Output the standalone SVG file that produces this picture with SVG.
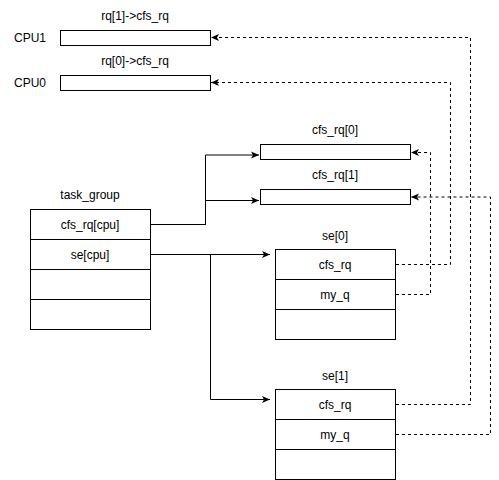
<svg xmlns="http://www.w3.org/2000/svg" width="499" height="480" viewBox="0 0 499 480">
<style>
  .box { fill: #ffffff; stroke: #000000; stroke-width: 1; }
  .t { font-family: "Liberation Sans", Arial, sans-serif; font-size: 12px; fill: #000000; text-anchor: middle; }
  .solid { fill: none; stroke: #000000; stroke-width: 1; }
  .dash { fill: none; stroke: #000000; stroke-width: 1; stroke-dasharray: 3 3; }
</style>
<defs>
  <marker id="arr" markerUnits="userSpaceOnUse" markerWidth="10" markerHeight="10" refX="8" refY="4" orient="auto">
    <path d="M0,0.5 L8,4 L0,7.5 L2,4 Z" fill="#000000" stroke="none"/>
  </marker>
</defs>
<rect width="499" height="480" fill="#ffffff"/>

<g id="connectors">
  <path class="solid" d="M150,224.5 H205.5 V155 H259" marker-end="url(#arr)"/>
  <path class="solid" d="M150,224.5 H205.5 V200.5 H259" marker-end="url(#arr)"/>
  <path class="solid" d="M150,254.5 H270" marker-end="url(#arr)"/>
  <path class="solid" d="M210.5,254.5 V399.5 H270" marker-end="url(#arr)"/>
  <path class="dash" d="M396,264.5 H450.5 V82.5 H211" marker-end="url(#arr)"/>
  <path class="dash" d="M396,294.5 H430.5 V152.5 H411" marker-end="url(#arr)"/>
  <path class="dash" d="M396,404.5 H470.5 V37.5 H211" marker-end="url(#arr)"/>
  <path class="dash" d="M396,434.5 H490.5 V197 H411" marker-end="url(#arr)"/>
</g>

<g id="cpu1">
  <text class="t" x="135" y="20">rq[1]-&gt;cfs_rq</text>
  <text class="t" x="30" y="42">CPU1</text>
  <rect class="box" x="60.5" y="30.5" width="150" height="15"/>
</g>

<g id="cpu0">
  <text class="t" x="135" y="65">rq[0]-&gt;cfs_rq</text>
  <text class="t" x="30" y="87">CPU0</text>
  <rect class="box" x="60.5" y="75.5" width="150" height="15"/>
</g>

<g id="cfs_rq0">
  <text class="t" x="335" y="134">cfs_rq[0]</text>
  <rect class="box" x="260.5" y="144.5" width="150" height="15"/>
</g>

<g id="cfs_rq1">
  <text class="t" x="335" y="179">cfs_rq[1]</text>
  <rect class="box" x="260.5" y="189.5" width="150" height="15"/>
</g>

<g id="task_group">
  <text class="t" x="90" y="199">task_group</text>
  <rect class="box" x="30.5" y="209.5" width="120" height="30"/>
  <rect class="box" x="30.5" y="239.5" width="120" height="30"/>
  <rect class="box" x="30.5" y="269.5" width="120" height="30"/>
  <rect class="box" x="30.5" y="299.5" width="120" height="30"/>
  <text class="t" x="90" y="228.5">cfs_rq[cpu]</text>
  <text class="t" x="90" y="258.5">se[cpu]</text>
</g>

<g id="se0">
  <text class="t" x="335" y="240">se[0]</text>
  <rect class="box" x="275.5" y="249.5" width="120" height="30"/>
  <rect class="box" x="275.5" y="279.5" width="120" height="30"/>
  <rect class="box" x="275.5" y="309.5" width="120" height="30"/>
  <text class="t" x="335" y="268.5">cfs_rq</text>
  <text class="t" x="335" y="298.5">my_q</text>
</g>

<g id="se1">
  <text class="t" x="335" y="380">se[1]</text>
  <rect class="box" x="275.5" y="389.5" width="120" height="30"/>
  <rect class="box" x="275.5" y="419.5" width="120" height="30"/>
  <rect class="box" x="275.5" y="449.5" width="120" height="30"/>
  <text class="t" x="335" y="408.5">cfs_rq</text>
  <text class="t" x="335" y="438.5">my_q</text>
</g>
</svg>
